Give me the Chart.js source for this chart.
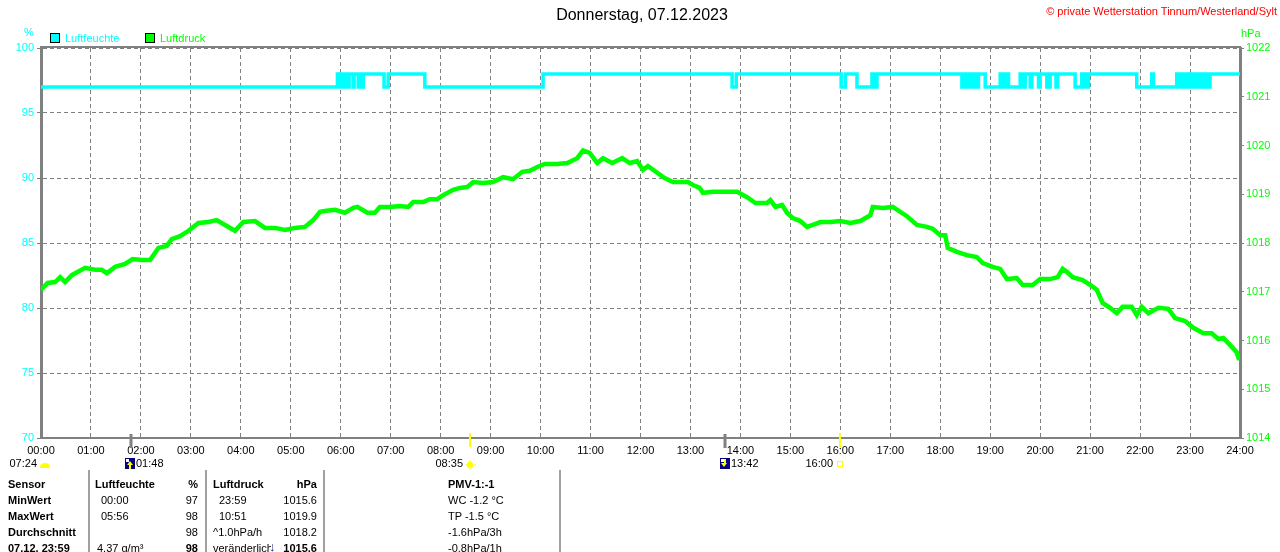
<!DOCTYPE html>
<html>
<head>
<meta charset="utf-8">
<script src="https://cdn.jsdelivr.net/npm/chart.js@4.4.1/dist/chart.umd.min.js"></script>
<style>
  html,body{margin:0;padding:0;background:#fff;}
  #wrap{position:relative;width:1280px;height:552px;overflow:hidden;font-family:"Liberation Sans",Arial,sans-serif;font-size:11px;}
  #c{position:absolute;left:0;top:0;}
  .t{position:absolute;white-space:nowrap;line-height:14px;}
  .b{font-weight:bold;}
  .sep{position:absolute;width:2px;background:#a0a0a0;top:470px;height:82px;}
  .box{position:absolute;width:10px;height:10px;border:1px solid #000;box-sizing:border-box;}
</style>
</head>
<body>
<div id="wrap">
  <canvas id="c" width="1280" height="552"></canvas>
  <div class="t" id="title" style="left:0;width:1284px;text-align:center;top:6px;font-size:16px;line-height:18px;color:#000;">Donnerstag, 07.12.2023</div>
  <div class="t" style="right:3px;top:4px;color:#ff0000;">© private Wetterstation Tinnum/Westerland/Sylt</div>
  <div class="t" style="left:24px;top:25px;color:#00ffff;">%</div>
  <div class="t" style="left:1241px;top:26px;color:#00ff00;">hPa</div>
  <div class="box" style="left:50px;top:33px;background:#00ffff;"></div>
  <div class="t" style="left:65px;top:31px;color:#00ffff;">Luftfeuchte</div>
  <div class="box" style="left:145px;top:33px;background:#00ff00;"></div>
  <div class="t" style="left:160px;top:31px;color:#00ff00;">Luftdruck</div>
  <div id="table"></div>
</div>
<script>
// ---------- data ----------
const hourTicks = ['00:00','01:00','02:00','03:00','04:00','05:00','06:00','07:00','08:00','09:00','10:00','11:00','12:00','13:00','14:00','15:00','16:00','17:00','18:00','19:00','20:00','21:00','22:00','23:00','24:00'];
const humTicks = ['70','75','80','85','90','95','100'];
const pressTicks = ['1014','1015','1016','1017','1018','1019','1020','1021','1022'];

// Luftfeuchte (%) — minute of day where the value changes, and the new value
const humTimes = [0,
  356,358,360,363,365,367,370,375,376,381,382,384,387,
  412,417,461,603,830,835,
  961,966,980,998,1000,1004,
  1106,1109,1111,1114,1117,1119,1122,1126,1134,
  1152,1155,1158,1162,
  1176,1180,1182,1188,1190,1198,1200,1208,1212,1219,1221,
  1242,1250,1254,1258,
  1316,1334,1336,
  1364,1366,1369,1371,1374,1377,1380,1382,1385,1388,1392,1395,1398,1401,1404,1440];
const humValues = [97,
  98,97,98,97,98,97,98,97,98,97,98,97,98,
  97,98,97,98,97,98,
  97,98,97,98,97,98,
  97,98,97,98,97,98,97,98,97,
  98,97,98,97,
  98,97,98,97,98,97,98,97,98,97,98,
  97,98,97,98,
  97,98,97,
  98,97,98,97,98,97,98,97,98,97,98,97,98,97,98,98];

// Luftdruck (hPa) — minute of day and value
const pressTimes = [
  0,8,17,23,29,37,53,65,73,79,
  89,101,110,121,131,141,151,157,167,177,
  189,201,211,221,233,243,257,269,281,293,
  305,317,327,335,343,353,365,375,380,392,
  401,407,419,431,441,447,459,467,476,483,
  495,503,512,519,531,543,555,567,578,587,
  596,605,620,632,644,651,659,668,675,686,
  698,707,716,723,729,740,749,759,770,777,
  783,791,795,807,821,836,848,858,872,876,
  882,890,896,903,912,920,927,936,948,960,
  972,984,996,999,1011,1023,1032,1040,1052,1064,
  1071,1080,1086,1089,1100,1112,1124,1131,1143,1152,
  1160,1172,1179,1191,1200,1212,1221,1227,1232,1239,
  1251,1260,1268,1275,1284,1292,1299,1310,1316,1322,
  1330,1342,1354,1362,1374,1384,1396,1406,1414,1420,
  1428,1436,1439];
const pressValues = [
  1017.04,1017.18,1017.20,1017.30,1017.20,1017.34,1017.49,1017.45,1017.45,1017.38,
  1017.51,1017.57,1017.67,1017.65,1017.65,1017.90,1017.94,1018.08,1018.14,1018.25,
  1018.41,1018.43,1018.47,1018.37,1018.25,1018.43,1018.45,1018.31,1018.31,1018.27,
  1018.31,1018.33,1018.47,1018.64,1018.66,1018.68,1018.62,1018.72,1018.74,1018.62,
  1018.62,1018.74,1018.74,1018.76,1018.74,1018.84,1018.84,1018.90,1018.90,1018.98,
  1019.09,1019.13,1019.15,1019.25,1019.23,1019.25,1019.35,1019.31,1019.46,1019.48,
  1019.56,1019.62,1019.62,1019.64,1019.74,1019.90,1019.85,1019.64,1019.74,1019.64,
  1019.74,1019.64,1019.68,1019.50,1019.58,1019.44,1019.33,1019.25,1019.25,1019.25,
  1019.19,1019.13,1019.03,1019.05,1019.05,1019.05,1018.94,1018.82,1018.82,1018.88,
  1018.74,1018.78,1018.62,1018.51,1018.45,1018.33,1018.37,1018.43,1018.43,1018.45,
  1018.41,1018.45,1018.57,1018.74,1018.72,1018.74,1018.64,1018.55,1018.37,1018.33,
  1018.29,1018.16,1018.16,1017.90,1017.82,1017.75,1017.71,1017.59,1017.51,1017.47,
  1017.26,1017.28,1017.14,1017.14,1017.26,1017.26,1017.30,1017.47,1017.41,1017.30,
  1017.24,1017.14,1017.04,1016.77,1016.67,1016.56,1016.69,1016.69,1016.52,1016.69,
  1016.56,1016.67,1016.65,1016.46,1016.40,1016.26,1016.15,1016.15,1016.03,1016.05,
  1015.91,1015.76,1015.60];

// Sun / moon markers on the time axis
const markerTimes  = [0, 108, 515, 822, 960];
const markerLabels = ['07:24', '01:48', '08:35', '13:42', '16:00'];
const markerKinds  = ['sunrise', 'moonrise', 'sun', 'moonset', 'sunset'];

// statistics table
const tableRows = [
  ['Sensor', 'Luftfeuchte', '', '%', 'Luftdruck', '', 'hPa', 'PMV-1:-1'],
  ['MinWert', '', '00:00', '97', '', '23:59', '1015.6', 'WC -1.2 °C'],
  ['MaxWert', '', '05:56', '98', '', '10:51', '1019.9', 'TP -1.5 °C'],
  ['Durchschnitt', '', '', '98', '^1.0hPa/h', '', '1018.2', '-1.6hPa/3h'],
  ['07.12. 23:59', '4.37 g/m³', '', '98', 'veränderlich', '', '1015.6', '-0.8hPa/1h']
];

// ---------- table ----------
(function(){
  const t = document.getElementById('table');
  const rowY = [477, 493, 509, 525, 541];
  function add(txt, x, y, opts){
    if(!txt) return;
    const d = document.createElement('div');
    d.className = 't' + (opts.bold ? ' b' : '');
    d.textContent = txt;
    d.style.top = y + 'px';
    if(opts.right){ d.style.right = (1280 - x) + 'px'; } else { d.style.left = x + 'px'; }
    if(opts.width){ d.style.width = opts.width + 'px'; d.style.overflow = 'hidden'; }
    t.appendChild(d);
  }
  tableRows.forEach((r, i) => {
    const y = rowY[i];
    const head = i === 0, last = i === 4;
    add(r[0], 8, y, {bold:true});
    add(r[1], head ? 95 : 97, y, {bold:head});
    add(r[2], 101, y, {});
    add(r[3], 198, y, {right:true, bold: head || last});
    add(r[4], 213, y, {bold:head, width: last ? 58 : 0});
    add(r[5], 219, y, {});
    add(r[6], 317, y, {right:true, bold: head || last});
    add(r[7], 448, y, {bold:head});
  });
  [88, 205, 323, 559].forEach(x => {
    const s = document.createElement('div'); s.className = 'sep'; s.style.left = x + 'px'; t.appendChild(s);
  });
  const arr = document.createElement('div');
  arr.className = 't b';
  arr.textContent = '↓';
  arr.style.left = '269px'; arr.style.top = '540px'; arr.style.color = '#1a2a7a'; arr.style.fontSize = '13px';
  t.appendChild(arr);
})();

// ---------- chart ----------
const fmt = v => { const h = Math.floor(v / 60), m = v % 60; return String(h).padStart(2,'0') + ':' + String(m).padStart(2,'0'); };

const framePlugin = {
  id: 'frame',
  afterDraw(chart){
    const {ctx, chartArea: a} = chart;
    const xs = chart.scales.x;
    ctx.save();
    ctx.strokeStyle = '#808080';
    ctx.lineWidth = 2;
    ctx.beginPath(); ctx.moveTo(a.left - 1, a.top - 1); ctx.lineTo(a.right + 1, a.top - 1); ctx.stroke();

    ctx.font = '11px "Liberation Sans", Arial, sans-serif';
    ctx.textBaseline = 'middle';
    ctx.fillStyle = '#000';
    const iy = a.bottom + 26;
    markerTimes.forEach((tm, i) => {
      const px = Math.round(xs.getPixelForValue(tm));
      const kind = markerKinds[i];
      const lab = markerLabels[i];
      if (kind === 'moonrise' || kind === 'moonset') {
        ctx.strokeStyle = '#808080'; ctx.lineWidth = 3;
        ctx.beginPath(); ctx.moveTo(px, a.bottom - 4); ctx.lineTo(px, a.bottom + 10); ctx.stroke();
      } else if (kind === 'sun' || kind === 'sunset') {
        ctx.strokeStyle = '#ffff00'; ctx.lineWidth = 2;
        ctx.beginPath(); ctx.moveTo(px, a.bottom - 5); ctx.lineTo(px, a.bottom + 9); ctx.stroke();
      }
      ctx.fillStyle = '#000';
      if (kind === 'sunrise') {
        ctx.textAlign = 'right'; ctx.fillText(lab, px - 4, iy);
        ctx.fillStyle = '#ffff00';
        ctx.beginPath(); ctx.ellipse(px + 4, iy + 3, 5, 4, 0, Math.PI, 2 * Math.PI); ctx.fill();
        ctx.fillRect(px - 1, iy + 2, 10, 2);
      } else if (kind === 'moonrise' || kind === 'moonset') {
        const x0 = kind === 'moonrise' ? px - 6 : px - 5;
        ctx.fillStyle = '#000080'; ctx.fillRect(x0, iy - 6, 10, 11);
        ctx.fillStyle = '#ffffff'; ctx.fillRect(x0 + 1, iy - 5, 3, 3);
        ctx.fillStyle = '#ffff00';
        ctx.beginPath();
        if (kind === 'moonrise') {
          ctx.moveTo(x0 + 5, iy - 3); ctx.lineTo(x0 + 8, iy + 1); ctx.lineTo(x0 + 2, iy + 1);
        } else {
          ctx.moveTo(x0 + 4, iy + 3); ctx.lineTo(x0 + 7, iy - 1); ctx.lineTo(x0 + 1, iy - 1);
        }
        ctx.fill();
        ctx.fillRect(x0 + 4, kind === 'moonrise' ? iy : iy - 5, 2, 5);
        ctx.fillStyle = '#000'; ctx.textAlign = 'left'; ctx.fillText(lab, x0 + 11, iy);
      } else if (kind === 'sun') {
        ctx.textAlign = 'right'; ctx.fillText(lab, px - 7, iy);
        ctx.fillStyle = '#ffff00';
        ctx.beginPath(); ctx.arc(px, iy + 1, 3.2, 0, 2 * Math.PI); ctx.fill();
        ctx.fillRect(px - 0.5, iy - 4, 1, 2); ctx.fillRect(px - 0.5, iy + 4, 1, 2);
        ctx.fillRect(px - 5, iy + 0.5, 2, 1); ctx.fillRect(px + 4, iy + 0.5, 2, 1);
      } else if (kind === 'sunset') {
        ctx.textAlign = 'right'; ctx.fillText(lab, px - 7, iy);
        ctx.strokeStyle = '#ffff00'; ctx.lineWidth = 1;
        ctx.strokeRect(px - 2.5, iy - 2.5, 5, 5);
      }
    });
    ctx.restore();
  }
};

const humData = humTimes.map((t, i) => ({x: t, y: humValues[i]}));
const pressData = pressTimes.map((t, i) => ({x: t, y: pressValues[i]}));

const tickFont = {family: '"Liberation Sans", Arial, sans-serif', size: 11};

new Chart(document.getElementById('c'), {
  type: 'line',
  data: {
    datasets: [
      {label: 'Luftfeuchte', data: humData, yAxisID: 'y', borderColor: '#00ffff', backgroundColor: '#00ffff',
       borderWidth: 3.5, pointRadius: 0, stepped: 'before', fill: false, order: 2},
      {label: 'Luftdruck', data: pressData, yAxisID: 'y1', borderColor: '#00ff00', backgroundColor: '#00ff00',
       borderWidth: 4.5, pointRadius: 0, tension: 0, fill: false, order: 1}
    ]
  },
  options: {
    responsive: false,
    animation: false,
    devicePixelRatio: 1,
    layout: {padding: {top: 48, bottom: 84, left: 0, right: 0}},
    plugins: {legend: {display: false}, title: {display: false}, tooltip: {enabled: false}},
    scales: {
      x: {
        type: 'linear', min: 0, max: 1440,
        afterFit: s => { s.height = 30; },
        afterBuildTicks: s => { s.ticks = hourTicks.map((_, i) => ({value: i * 60})); },
        ticks: {callback: (v, i) => hourTicks[i] !== undefined ? hourTicks[i] : fmt(v), color: '#000', font: tickFont,
                autoSkip: false, maxRotation: 0, padding: 6},
        grid: {color: '#808080', lineWidth: 1, drawTicks: false, tickLength: 0},
        border: {color: '#808080', width: 2, dash: [4, 3]}
      },
      y: {
        position: 'left', min: 70, max: 100,
        afterFit: s => { s.width = 41; },
        afterBuildTicks: s => { s.ticks = humTicks.map(v => ({value: Number(v)})); },
        ticks: {callback: (v, i) => humTicks[i], color: '#00ffff', font: tickFont, padding: 3},
        grid: {color: '#808080', lineWidth: 1, tickLength: 4, tickColor: '#808080', tickBorderDash: [], tickWidth: 1},
        border: {color: '#808080', width: 3, dash: [4, 3]}
      },
      y1: {
        position: 'right', min: 1014, max: 1022,
        afterFit: s => { s.width = 40; },
        afterBuildTicks: s => { s.ticks = pressTicks.map(v => ({value: Number(v)})); },
        ticks: {callback: (v, i) => pressTicks[i], color: '#00ff00', font: tickFont, padding: 2},
        grid: {drawOnChartArea: false, tickLength: 4, tickColor: '#808080', tickWidth: 1},
        border: {color: '#808080', width: 3}
      }
    }
  },
  plugins: [framePlugin]
});
</script>
</body>
</html>
